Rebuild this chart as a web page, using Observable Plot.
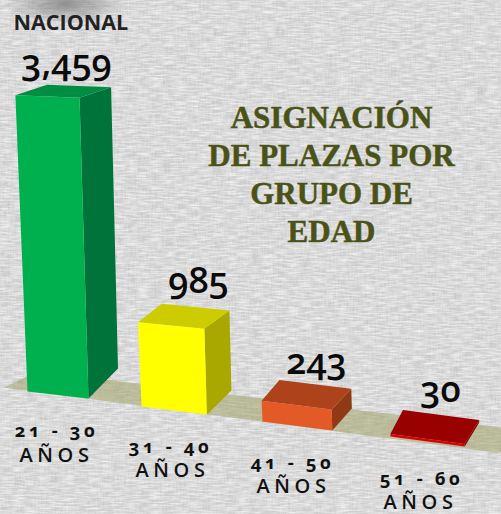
<!DOCTYPE html>
<html><head><meta charset="utf-8">
<script src="https://cdn.jsdelivr.net/npm/d3@7"></script>
<script src="https://cdn.jsdelivr.net/npm/@observablehq/plot@0.6"></script>
<style>
html,body{margin:0;padding:0;width:501px;height:514px;overflow:hidden;background:#d4d4d4}
#bg{position:absolute;left:0;top:0}
#chart{position:absolute;left:0;top:0}
.rango text{letter-spacing:3.6px}
.anios text{letter-spacing:4.6px}
</style></head><body>
<svg id="bg" width="501" height="514" xmlns="http://www.w3.org/2000/svg">
<defs>
<filter id="h" x="0" y="0" width="100%" height="100%"><feTurbulence type="fractalNoise" baseFrequency="0.08 0.6" numOctaves="2" seed="3"/><feColorMatrix values="0 0 0 0 1  0 0 0 0 1  0 0 0 0 1  1.3 0 0 0 -0.42"/></filter>
<filter id="v" x="0" y="0" width="100%" height="100%"><feTurbulence type="fractalNoise" baseFrequency="0.6 0.08" numOctaves="2" seed="8"/><feColorMatrix values="0 0 0 0 0.55  0 0 0 0 0.55  0 0 0 0 0.55  1.6 0 0 0 -0.5"/></filter>
<radialGradient id="sm" cx="0.5" cy="0.5" r="0.5"><stop offset="0" stop-color="#777" stop-opacity=".75"/><stop offset="1" stop-color="#777" stop-opacity="0"/></radialGradient>
</defs>
<rect width="501" height="514" fill="#d4d4d4"/>
<rect width="501" height="514" filter="url(#v)"/>
<rect width="501" height="514" filter="url(#h)"/>
<ellipse cx="65" cy="4" rx="62" ry="20" fill="url(#sm)"/>
</svg>
<div id="chart"></div>
<script>
const ageGroups = ["21 - 30", "31 - 40", "41 - 50", "51 - 60"];
const plazas = [3459, 985, 243, 30];
const unitLabel = "AÑOS";
const chartTitle = ["ASIGNACIÓN", "DE PLAZAS POR", "GRUPO DE", "EDAD"];
const scopeLabel = "NACIONAL";
const frontColors = ["#00b04f", "#ffff00", "#e45a26", "#d80000"];
const sideColors = ["#00733a", "#a8a800", "#8f3a14", "#8f0000"];
const topColors = ["#008c43", "#cccc00", "#ae431b", "#990000"];

// Perspective of the drawing (layout, not data)
const W = 501, H = 514, PX = 0.0865;            // pixels per plaza
const rise = py => (H - py) / PX;               // screen row -> y-scale value
const layout = i => ({
  x: 27 + 110.5 * i + 3.5 * i * i, y: 391 + 15 * i,
  w: 61 + 4.4 * i, dy: 7 + i,
  dx: 29.5 - 5 * i, dz: -30 + 8 * i - 2 * i * i
});
const faces = [];
plazas.forEach((v, i) => {
  const L = layout(i);
  const c = {
    fl: [L.x, L.y], fr: [L.x + L.w, L.y + L.dy],
    br: [L.x + L.w + L.dx, L.y + L.dy + L.dz], bl: [L.x + L.dx - 2, L.y + L.dz]
  };
  const top = (k, lean, f) => [c[k][0] - lean * v, c[k][1], f * v];
  const T = {fl: top("fl", 0.0035, 0.99), fr: top("fr", 0.0026, 1.005), br: top("br", 0.002, 0.94), bl: top("bl", 0.0023, 0.925)};
  const B = k => [c[k][0], c[k][1], 0];
  const push = (name, color, pts) => pts.forEach(p =>
    faces.push({id: i + name, color, x: p[0], y: rise(p[1]) + p[2]}));
  push("side", sideColors[i], [B("fr"), B("br"), T.br, T.fr]);
  push("top", topColors[i], [T.fl, T.bl, T.br, T.fr]);
  push("front", frontColors[i], [B("fl"), B("fr"), T.fr, T.fl]);
});
const floor = [[3, 387], [38, 371], [501, 427], [501, 452], [495, 452]]
  .map(([x, y]) => ({x, y: rise(y)}));
const rows = ageGroups.map((g, i) => ({
  group: g, value: d3.format(",")(plazas[i]),
  cx: [66, 198, 316, 440][i], vy: rise([74, 292, 373, 401][i]),
  rx: [56, 170, 292, 421][i], ry: rise([436, 452, 468, 484][i]),
  ax: [56, 172, 293, 420][i], ay: rise([461, 476, 492, 508][i])
}));
const titleRows = chartTitle.map((t, i) => ({t, x: 331, y: rise([127, 165, 203, 241][i])}));

const plot = Plot.plot({
  width: W, height: H, margin: 0,
  x: {domain: [0, W], range: [0, W], axis: null},
  y: {domain: [0, H / PX], range: [H, 0], axis: null},
  color: {type: "identity"},
  style: {background: "transparent", overflow: "visible"},
  marks: [
    Plot.line(floor, {x: "x", y: "y", fill: "#9a9e5c", fillOpacity: 0.5, stroke: "none"}),
    Plot.line(faces, {x: "x", y: "y", z: "id", fill: "color", stroke: "none"}),
    Plot.text([scopeLabel], {x: () => 13, y: () => rise(29), text: d => d, textAnchor: "start", lineAnchor: "bottom",
      fontFamily: "Open Sans", fontWeight: 700, fontSize: 21.5, fill: "#222"}),
    Plot.text(rows, {x: "cx", y: "vy", text: "value", lineAnchor: "bottom", fontFamily: "Open Sans", fontVariant: "oldstyle-nums",
      fontWeight: 600, fontSize: 36, fill: "#0b0b0b"}),
    Plot.text(rows, {x: "rx", y: "ry", text: "group", lineAnchor: "bottom", className: "rango", fontFamily: "Open Sans", fontVariant: "oldstyle-nums",
      fontWeight: 700, fontSize: 18.5, fill: "#111"}),
    Plot.text(rows, {x: "ax", y: "ay", text: () => unitLabel, lineAnchor: "bottom", className: "anios", fontFamily: "Open Sans",
      fontWeight: 600, fontSize: 20, fill: "#111"}),
    Plot.text(titleRows, {x: "x", y: "y", text: "t", lineAnchor: "bottom", fontFamily: "Liberation Serif",
      fontWeight: 700, fontSize: 31, fill: "#4a5218", stroke: "#4a5218", strokeWidth: 0.5})
  ]
});
document.getElementById("chart").appendChild(plot);
</script>
</body></html>
